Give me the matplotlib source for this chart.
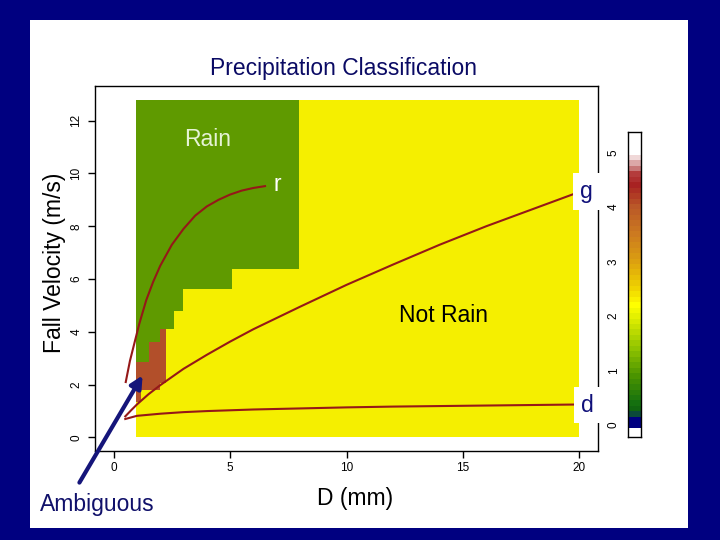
import matplotlib
matplotlib.use('Agg')
import matplotlib.pyplot as plt
import numpy as np
from matplotlib.patches import Rectangle, FancyArrowPatch
from matplotlib.colors import ListedColormap, to_rgb

plt.rcParams['font.family'] = ['Liberation Sans', 'DejaVu Sans']

# ---------------- data ----------------
# classification grid: columns in D (mm), thresholds in V (m/s)
d_edges = [0.97, 1.17, 1.5, 1.97, 2.23, 2.58, 3.0, 5.1, 7.94, 20.0]
ambig_lo = [1.33, 1.78, 1.78, 2.08, 4.1, 4.8, 5.64, 6.4, 12.8]
rain_lo = [2.84, 2.84, 3.6, 4.1, 4.1, 4.8, 5.64, 6.4, 12.8]
v_top = 12.8

# curves
rain_d = [0.52, 0.7, 0.9, 1.1, 1.4, 1.7, 2.0, 2.5, 3.0, 3.5, 4.0, 4.5, 5.0, 5.5, 6.0, 6.5]
rain_v = [2.1, 2.9, 3.6, 4.3, 5.2, 5.9, 6.5, 7.3, 7.9, 8.4, 8.75, 9.0, 9.2, 9.35, 9.45, 9.52]

graupel_d = [0.5, 0.75, 1, 1.5, 2, 3, 4, 5, 6, 8, 10, 12, 14, 16, 18, 20]
graupel_v = [0.8, 1.03, 1.25, 1.64, 1.98, 2.6, 3.13, 3.63, 4.1, 4.95, 5.78, 6.55, 7.3, 8.0, 8.65, 9.3]

snow_d = [0.5, 1, 2, 3, 4, 5, 6, 8, 10, 12, 14, 16, 18, 20]
snow_v = [0.7, 0.82, 0.9, 0.96, 1.0, 1.03, 1.06, 1.1, 1.14, 1.17, 1.19, 1.21, 1.23, 1.25]

x_ticks = [0, 5, 10, 15, 20]
y_ticks = [0, 2, 4, 6, 8, 10, 12]
cb_ticks = [0, 1, 2, 3, 4, 5]

# ---------------- styles ----------------
NAVY = '#000080'
GREEN = '#5f9a00'
YELLOW = '#f5ef00'
BROWN = '#b24f2a'
CURVE = '#951818'

cb_stops = [(-0.25, '#ffffff'), (-0.04, '#ffffff'), (-0.03, '#000080'), (0.15, '#000080'),
            (0.16, '#0c4a3a'), (0.21, '#0c4a3a'), (0.22, '#0f5e0f'), (0.4, '#157010'),
            (0.9, '#4a9400'), (1.4, '#90c400'), (1.9, '#d8ea00'), (2.2, '#ffff00'),
            (2.5, '#f0d400'), (3.0, '#dca010'), (3.5, '#cc7a20'), (4.0, '#ba5828'),
            (4.4, '#a82222'), (4.6, '#b43c3c'), (4.7, '#c87878'), (4.8, '#dca8a8'),
            (4.9, '#f0d8d8'), (4.93, '#ffffff'), (5.4, '#ffffff')]

W, H = 720, 540
def fx(px):
    return px / W
def fy(py):
    return 1 - py / H

fig = plt.figure(figsize=(7.2, 5.4), dpi=100, facecolor=NAVY)
fig.add_artist(Rectangle((fx(30), fy(528)), (688 - 30) / W, (528 - 20) / H,
                         transform=fig.transFigure, facecolor='white', edgecolor='none', zorder=-5))

ax = fig.add_axes([fx(95), fy(451), (598 - 95) / W, (451 - 86) / H])
ax.set_facecolor('white')

# build classification array
v_edges = sorted(set([0.0, v_top] + ambig_lo + rain_lo))
Z = np.zeros((len(v_edges) - 1, len(d_edges) - 1))
for i in range(len(d_edges) - 1):
    for j in range(len(v_edges) - 1):
        vm = 0.5 * (v_edges[j] + v_edges[j + 1])
        if vm >= rain_lo[i]:
            Z[j, i] = 1
        elif vm >= ambig_lo[i]:
            Z[j, i] = 2
        else:
            Z[j, i] = 0
ax.pcolormesh(d_edges, v_edges, Z, cmap=ListedColormap([YELLOW, GREEN, BROWN]),
              vmin=-0.5, vmax=2.5, shading='flat', zorder=1)

ax.plot(rain_d, rain_v, color=CURVE, lw=1.5, zorder=3)
ax.plot(graupel_d, graupel_v, color=CURVE, lw=1.5, zorder=3)
ax.plot(snow_d, snow_v, color=CURVE, lw=1.5, zorder=3)

ax.set_xlim(-0.8, 20.8)
ax.set_ylim(-0.512, 13.312)
ax.set_xticks(x_ticks)
ax.set_yticks(y_ticks)
ax.set_xticklabels([str(t) for t in x_ticks])
ax.set_yticklabels([str(t) for t in y_ticks], rotation=90, va='center')
ax.tick_params(direction='out', length=5, width=1, labelsize=8.5, colors='black', pad=3)
ax.tick_params(axis='y', pad=4)
for s in ax.spines.values():
    s.set_linewidth(1)
    s.set_color('black')

FS = 16.5
ax.text(4.04, 11.05, 'Rain', color='#e6f3d6', fontsize=FS, ha='center', va='baseline', zorder=5)
ax.text(7.05, 9.35, 'r', color='white', fontsize=FS, ha='center', va='baseline', zorder=5)
ax.text(14.15, 4.39, 'Not Rain', color='black', fontsize=FS, ha='center', va='baseline', zorder=5)
ax.text(20.3, 9.08, 'g', color='#10107a', fontsize=FS, ha='center', va='baseline', zorder=10,
        clip_on=False, bbox=dict(boxstyle='square,pad=0.3', fc='white', ec='none'))
ax.text(20.35, 0.98, 'd', color='#10107a', fontsize=FS, ha='center', va='baseline', zorder=10,
        clip_on=False, bbox=dict(boxstyle='square,pad=0.3', fc='white', ec='none'))

# figure texts
fig.text(fx(343), fy(75), 'Precipitation Classification', color='#0a0a64', fontsize=FS,
         ha='center', va='baseline')
fig.text(fx(55), fy(263), 'Fall Velocity (m/s)', color='black', fontsize=FS,
         rotation=90, ha='center', va='center')
fig.text(fx(355), fy(498), 'D (mm)', color='black', fontsize=FS, ha='center', va='center')
fig.text(fx(97), fy(505), 'Ambiguous', color='#10106a', fontsize=FS, ha='center', va='center')

arrow = FancyArrowPatch((fx(78), fy(485)), (fx(144), fy(373)), transform=fig.transFigure,
                        arrowstyle='-|>', mutation_scale=18, lw=3, color='#15157a', zorder=20)
fig.add_artist(arrow)

# colour bar
cax = fig.add_axes([fx(628), fy(437), (641 - 628) / W, (437 - 132) / H])
pos = np.array([p for p, c in cb_stops])
cols = np.array([to_rgb(c) for p, c in cb_stops])
band_edges = np.arange(-0.25, 5.45, 0.1)
centers = 0.5 * (band_edges[:-1] + band_edges[1:])
rgb = np.stack([np.interp(centers, pos, cols[:, k]) for k in range(3)], axis=1)
cax.imshow(rgb[:, None, :], aspect='auto', origin='lower',
           extent=[0, 1, band_edges[0], band_edges[-1]], interpolation='nearest')
cax.set_xlim(0, 1)
cax.set_ylim(-0.22, 5.37)
cax.set_xticks([])
cax.set_yticks(cb_ticks)
cax.set_yticklabels([str(t) for t in cb_ticks], rotation=90, va='center')
cax.tick_params(axis='y', length=0, pad=6, labelsize=8.5)
for s in cax.spines.values():
    s.set_linewidth(1)
    s.set_color('black')

fig.savefig('out.png', dpi=100, facecolor=NAVY)
